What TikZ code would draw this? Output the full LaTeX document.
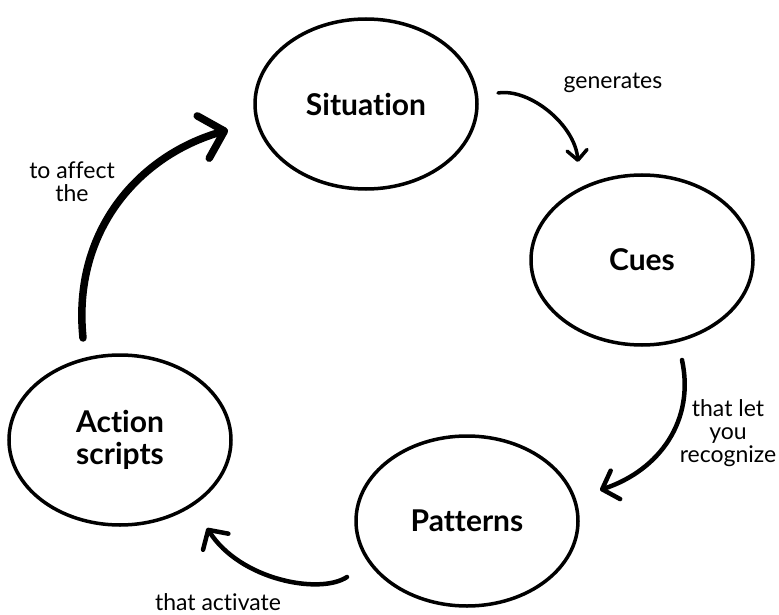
\documentclass[tikz,border=0pt]{standalone}
\usepackage{fontspec}
\setmainfont{Lato}[Ligatures={NoCommon}]
\usetikzlibrary{shapes.geometric,arrows.meta}
\begin{document}
\begin{tikzpicture}[x=1pt,y=-1pt,
  state/.style={draw, line width=3.5pt, ellipse, minimum width=222pt, minimum height=170pt, inner sep=0pt, font=\fontsize{30}{32}\selectfont\bfseries, align=center},
  lbl/.style={font=\fontsize{23}{23}\selectfont, align=center, inner sep=0pt},
  conn/.style={line width=4.5pt, line cap=round}
]
\useasboundingbox (0,0) rectangle (779,615);
\node[state] (sit) at (366,104) {Situation};
\node[state] (cues) at (642,260) {Cues};
\node[state] (pat) at (467,521) {Patterns};
\node[state] (act) at (120,440) {Action\\scripts};

\coordinate (g1) at (498,93);
\coordinate (g2) at (578,162);
\coordinate (c1) at (682,360);
\coordinate (c2) at (600,490);
\coordinate (p1) at (347,577);
\coordinate (p2) at (207,528);
\coordinate (a1) at (83,338);
\coordinate (a2) at (228,130);

\draw[conn, line width=3.5pt, -{Straight Barb[length=10pt,width=20pt,round]}]
  (g1) .. controls (530,88) and (575,125) .. (g2);
\draw[conn, -{Straight Barb[length=14pt,width=30pt,round]}]
  (c1) .. controls (695,420) and (660,470) .. (c2);
\draw[conn, -{Straight Barb[length=14pt,width=30pt,round]}]
  (p1) .. controls (320,595) and (240,580) .. (p2);
\draw[conn, line width=7.5pt, -{Straight Barb[length=22pt,width=44pt,round]}]
  (a1) .. controls (72,230) and (140,155) .. (a2);

\node[lbl] (lg) at (613,83) {generates};
\node[lbl] (lc) at (728,433) {that let\\you\\recognize};
\node[lbl] (lp) at (218,602) {that activate};
\node[lbl] (la) at (72,182) {to affect\\the};
\end{tikzpicture}
\end{document}
